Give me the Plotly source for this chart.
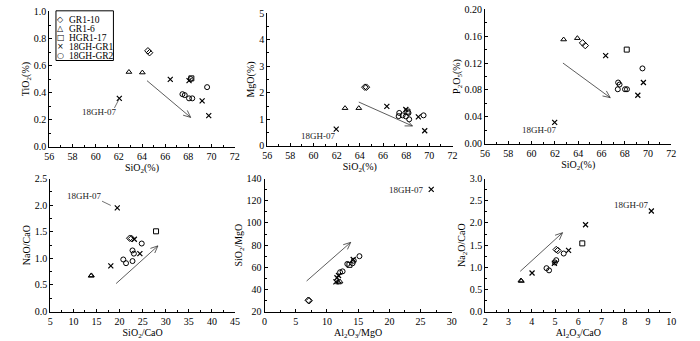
import math
import plotly.graph_objects as go

# ---------------- data ----------------
GROUPS = ["GR1-10", "GR1-6", "HGR1-17", "18GH-GR1", "18GH-GR2"]
SYMBOLS = ["diamond-open", "triangle-up-open", "square-open", "x-thin", "circle-open"]
LEGEND_GLYPHS = ["◇", "△", "□", "×", "○"]

# Panel 1: TiO2 vs SiO2
P1_GR1_10_X = [64.51, 64.65]
P1_GR1_10_Y = [0.709, 0.695]
P1_GR1_6_X = [62.87, 64.03]
P1_GR1_6_Y = [0.552, 0.548]
P1_HGR1_17_X = [68.26]
P1_HGR1_17_Y = [0.505]
P1_GR1_X = [62.04, 66.44, 68.06, 69.19, 69.76]
P1_GR1_Y = [0.357, 0.498, 0.488, 0.338, 0.229]
P1_GR2_X = [67.49, 67.69, 68.06, 68.34, 69.62, 68.20]
P1_GR2_Y = [0.388, 0.381, 0.357, 0.357, 0.440, 0.500]

# Panel 2: MgO vs SiO2
P2_GR1_10_X = [64.43, 64.57]
P2_GR1_10_Y = [2.21, 2.21]
P2_GR1_6_X = [62.72, 63.91]
P2_GR1_6_Y = [1.42, 1.42]
P2_HGR1_17_X = [68.11]
P2_HGR1_17_Y = [1.29]
P2_GR1_X = [61.96, 66.33, 67.97, 69.05, 69.60]
P2_GR1_Y = [0.63, 1.49, 1.37, 1.09, 0.57]
P2_GR2_X = [67.40, 67.35, 67.69, 67.97, 68.20, 68.26, 69.50]
P2_GR2_Y = [1.24, 1.12, 1.15, 1.11, 1.24, 1.00, 1.15]

# Panel 3: P2O5 vs SiO2
P3_GR1_10_X = [64.38, 64.61]
P3_GR1_10_Y = [0.150, 0.146]
P3_GR1_6_X = [62.75, 63.93]
P3_GR1_6_Y = [0.155, 0.157]
P3_HGR1_17_X = [68.17]
P3_HGR1_17_Y = [0.140]
P3_GR1_X = [61.98, 66.36, 69.12, 69.60]
P3_GR1_Y = [0.0316, 0.131, 0.072, 0.091]
P3_GR2_X = [67.43, 67.55, 67.40, 68.02, 68.19, 69.52]
P3_GR2_Y = [0.091, 0.088, 0.081, 0.081, 0.081, 0.112]

# Panel 4: NaO/CaO vs SiO2/CaO
P4_GR1_10_X = [22.2, 22.6]
P4_GR1_10_Y = [1.38, 1.375]
P4_GR1_6_X = [13.83, 13.90]
P4_GR1_6_Y = [0.672, 0.680]
P4_HGR1_17_X = [27.9]
P4_HGR1_17_Y = [1.51]
P4_GR1_X = [19.5, 18.1, 23.2, 24.4]
P4_GR1_Y = [1.95, 0.86, 1.36, 1.09]
P4_GR2_X = [20.8, 21.4, 22.8, 22.8, 23.1, 24.8]
P4_GR2_Y = [0.98, 0.91, 0.95, 1.15, 1.09, 1.28]

# Panel 5: SiO2/MgO vs Al2O3/MgO
P5_GR1_10_X = [7.0, 7.15]
P5_GR1_10_Y = [30.2, 29.8]
P5_GR1_6_X = [11.85, 12.1]
P5_GR1_6_Y = [46.2, 47.0]
P5_HGR1_17_X = [13.6]
P5_HGR1_17_Y = [62.2]
P5_GR1_X = [26.7, 11.43, 11.6, 11.85, 14.2]
P5_GR1_Y = [130.4, 46.8, 50.5, 52.6, 67.0]
P5_GR2_X = [12.1, 12.5, 13.26, 14.1, 14.3, 15.2]
P5_GR2_Y = [55.5, 56.3, 63.0, 63.6, 65.9, 70.0]

# Panel 6: Na2O/CaO vs Al2O3/CaO
P6_GR1_10_X = [5.05, 5.12]
P6_GR1_10_Y = [1.40, 1.38]
P6_GR1_6_X = [3.53, 3.55]
P6_GR1_6_Y = [0.70, 0.69]
P6_HGR1_17_X = [6.17]
P6_HGR1_17_Y = [1.54]
P6_GR1_X = [9.14, 4.01, 5.58, 6.31, 4.97]
P6_GR1_Y = [2.27, 0.87, 1.38, 1.96, 1.09]
P6_GR2_X = [4.63, 4.74, 5.05, 5.37, 4.99]
P6_GR2_Y = [0.98, 0.93, 1.16, 1.31, 1.11]

PANEL_DATA = [
    [(P1_GR1_10_X, P1_GR1_10_Y), (P1_GR1_6_X, P1_GR1_6_Y), (P1_HGR1_17_X, P1_HGR1_17_Y), (P1_GR1_X, P1_GR1_Y), (P1_GR2_X, P1_GR2_Y)],
    [(P2_GR1_10_X, P2_GR1_10_Y), (P2_GR1_6_X, P2_GR1_6_Y), (P2_HGR1_17_X, P2_HGR1_17_Y), (P2_GR1_X, P2_GR1_Y), (P2_GR2_X, P2_GR2_Y)],
    [(P3_GR1_10_X, P3_GR1_10_Y), (P3_GR1_6_X, P3_GR1_6_Y), (P3_HGR1_17_X, P3_HGR1_17_Y), (P3_GR1_X, P3_GR1_Y), (P3_GR2_X, P3_GR2_Y)],
    [(P4_GR1_10_X, P4_GR1_10_Y), (P4_GR1_6_X, P4_GR1_6_Y), (P4_HGR1_17_X, P4_HGR1_17_Y), (P4_GR1_X, P4_GR1_Y), (P4_GR2_X, P4_GR2_Y)],
    [(P5_GR1_10_X, P5_GR1_10_Y), (P5_GR1_6_X, P5_GR1_6_Y), (P5_HGR1_17_X, P5_HGR1_17_Y), (P5_GR1_X, P5_GR1_Y), (P5_GR2_X, P5_GR2_Y)],
    [(P6_GR1_10_X, P6_GR1_10_Y), (P6_GR1_6_X, P6_GR1_6_Y), (P6_HGR1_17_X, P6_HGR1_17_Y), (P6_GR1_X, P6_GR1_Y), (P6_GR2_X, P6_GR2_Y)],
]

X_TITLES = ["SiO<sub>2</sub>(%)", "SiO<sub>2</sub>(%)", "SiO<sub>2</sub>(%)",
            "SiO<sub>2</sub>/CaO", "Al<sub>2</sub>O<sub>3</sub>/MgO", "Al<sub>2</sub>O<sub>3</sub>/CaO"]
Y_TITLES = ["TiO<sub>2</sub>(%)", "MgO(%)", "P<sub>2</sub>O<sub>5</sub>(%)",
            "NaO/CaO", "SiO<sub>2</sub>/MgO", "Na<sub>2</sub>O/CaO"]
X_RANGES = [[56, 72], [56, 72], [56, 72], [5, 45], [0, 30], [2, 10]]
Y_RANGES = [[0, 1.0], [0, 5], [0, 0.20], [0, 2.5], [20, 140], [0, 3.0]]
X_DTICK = [2, 2, 2, 5, 5, 1]
Y_DTICK = [0.2, 1, 0.04, 0.5, 20, 0.5]
Y_FORMAT = [".1f", "d", ".2f", ".1f", "d", ".1f"]

# trend arrows (start, end) in data units
ARROWS = [
    ((64.43, 0.488), (68.20, 0.216)),
    ((63.91, 1.65), (68.54, 0.75)),
    ((62.69, 0.120), (66.75, 0.0685)),
    ((19.25, 0.527), (28.3, 1.235)),
    ((6.74, 47.6), (13.8, 82.5)),
    ((3.50, 0.908), (5.32, 1.78)),
]
# "18GH-07" label positions
LABEL_POS = [(60.3, 0.257), (60.37, 0.39), (60.63, 0.0207), (12.26, 2.18), (22.6, 129.8), (8.26, 2.41)]
# leader lines (panel index, start, end)
LEADERS = [(0, (61.62, 0.286), (61.98, 0.345)), (3, (16.2, 2.077), (18.1, 1.997))]

# ---------------- layout geometry (pixels) ----------------
W, H = 700, 341
BOXES = [  # left, right, top, bottom
    (45, 233, 5.7, 145.7),
    (266, 454, 7.3, 145.0),
    (487, 676, 3.4, 142.7),
    (46, 233.3, 179, 316.7),
    (263.3, 453.3, 179, 316.7),
    (487.3, 676, 179, 316.7),
]

FONT = "Liberation Serif"


def d2p(i, x, y):
    l, r, t, b = BOXES[i]
    x0, x1 = X_RANGES[i]
    y0, y1 = Y_RANGES[i]
    return l + (x - x0) / (x1 - x0) * (r - l), b - (y - y0) / (y1 - y0) * (b - t)


def p2d(i, px, py):
    l, r, t, b = BOXES[i]
    x0, x1 = X_RANGES[i]
    y0, y1 = Y_RANGES[i]
    return x0 + (px - l) / (r - l) * (x1 - x0), y0 + (b - py) / (b - t) * (y1 - y0)


fig = go.Figure()

for i in range(6):
    ax = "" if i == 0 else str(i + 1)
    for g in range(5):
        xs, ys = PANEL_DATA[i][g]
        fig.add_trace(go.Scatter(
            x=xs, y=ys, mode="markers", name=GROUPS[g], showlegend=False,
            xaxis="x" + ax, yaxis="y" + ax,
            marker=dict(symbol=SYMBOLS[g], size=5,
                        color="black", line=dict(color="black", width=1.2 if g == 3 else 1)),
        ))
    # arrow
    (sx, sy), (ex, ey) = ARROWS[i]
    psx, psy = d2p(i, sx, sy)
    pex, pey = d2p(i, ex, ey)
    dx, dy = pex - psx, pey - psy
    n = math.hypot(dx, dy)
    ux, uy = dx / n, dy / n
    heads = []
    for s in (1, -1):
        a = math.radians(24 * s)
        rx = ux * math.cos(a) - uy * math.sin(a)
        ry = ux * math.sin(a) + uy * math.cos(a)
        heads.append(p2d(i, pex - 8 * rx, pey - 8 * ry))
    fig.add_trace(go.Scatter(
        x=[sx, ex, None, heads[0][0], ex, heads[1][0]],
        y=[sy, ey, None, heads[0][1], ey, heads[1][1]],
        mode="lines", line=dict(color="#333", width=0.8), hoverinfo="skip",
        showlegend=False, xaxis="x" + ax, yaxis="y" + ax))

for (pi, s, e) in LEADERS:
    ax = "" if pi == 0 else str(pi + 1)
    fig.add_trace(go.Scatter(
        x=[s[0], e[0]], y=[s[1], e[1]], mode="lines",
        line=dict(color="#333", width=0.7), hoverinfo="skip", showlegend=False,
        xaxis="x" + ax, yaxis="y" + ax))

layout = dict(width=W, height=H, margin=dict(l=0, r=0, t=0, b=0),
              paper_bgcolor="white", plot_bgcolor="white",
              font=dict(family=FONT, size=10, color="black"), showlegend=False)

annotations = []
for i in range(6):
    l, r, t, b = BOXES[i]
    ax = "" if i == 0 else str(i + 1)
    common = dict(showline=True, linecolor="black", linewidth=1, mirror=False,
                  showgrid=False, zeroline=False, ticks="inside", ticklen=3,
                  tickwidth=1, tickcolor="black",
                  tickfont=dict(family=FONT, size=10, color="black"))
    layout["xaxis" + ax] = dict(
        common, domain=[l / W, r / W], range=X_RANGES[i], dtick=X_DTICK[i],
        tick0=X_RANGES[i][0], anchor="y" + ax,
        minor=dict(dtick=X_DTICK[i] / 2, ticks="inside", ticklen=2, tickcolor="black"),
        title=dict(text=X_TITLES[i], standoff=3, font=dict(family=FONT, size=10)))
    layout["yaxis" + ax] = dict(
        common, domain=[1 - b / H, 1 - t / H], range=Y_RANGES[i], dtick=Y_DTICK[i],
        tick0=Y_RANGES[i][0], anchor="x" + ax, tickformat=Y_FORMAT[i],
        minor=dict(dtick=Y_DTICK[i] / 2, ticks="inside", ticklen=2, tickcolor="black"),
        title=dict(text=Y_TITLES[i], standoff=2, font=dict(family=FONT, size=10)))
    lx, ly = LABEL_POS[i]
    annotations.append(dict(x=lx, y=ly, xref="x" + ax, yref="y" + ax, text="18GH-07",
                            showarrow=False, font=dict(family=FONT, size=9, color="#222")))

# legend box (manual)
LEG_L, LEG_T, LEG_R, LEG_B = 51.7, 5, 110, 56.5
shapes = [dict(type="rect", xref="paper", yref="paper",
               x0=LEG_L / W, x1=LEG_R / W, y0=1 - LEG_B / H, y1=1 - LEG_T / H,
               line=dict(color="black", width=1), fillcolor="white", layer="above")]
for g in range(5):
    yy = 14.5 + 9.3 * g
    annotations.append(dict(x=56.7 / W, y=1 - yy / H, xref="paper", yref="paper",
                            text=LEGEND_GLYPHS[g], showarrow=False, xanchor="center",
                            yanchor="middle",
                            font=dict(family="DejaVu Sans", size=8, color="black")))
    annotations.append(dict(x=62.5 / W, y=1 - yy / H, xref="paper", yref="paper",
                            text=GROUPS[g], showarrow=False, xanchor="left",
                            yanchor="middle",
                            font=dict(family=FONT, size=9.5, color="black")))

layout["annotations"] = annotations
layout["shapes"] = shapes
fig.update_layout(**layout)

fig.write_html("out.html", config={"displayModeBar": False},
               post_script="document.body.style.margin='0';")
